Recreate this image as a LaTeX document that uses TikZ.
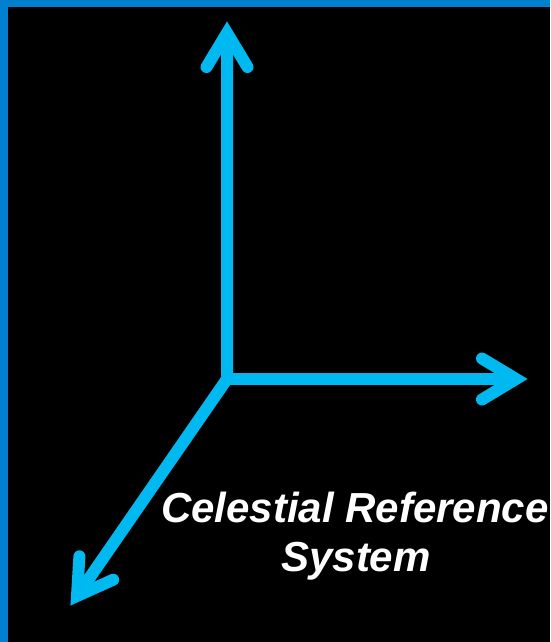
\documentclass[tikz,border=0pt]{standalone}
\usepackage{fontspec}
\setmainfont{Liberation Sans}
\definecolor{bordblue}{RGB}{0,128,206}
\definecolor{axcyan}{RGB}{0,185,240}
\begin{document}
\begin{tikzpicture}[x=1pt,y=1pt,
  axis/.style={draw=axcyan,line width=12pt,line join=miter},
  head/.style={draw=axcyan,line width=12pt,line cap=round,line join=miter,miter limit=10},
  lbl/.style={text=white,font=\fontsize{42}{48}\selectfont\bfseries\itshape,anchor=base,inner sep=0pt}]
\useasboundingbox (0,0) rectangle (550,-642);
\fill[black] (0,0) rectangle (550,-642);
\fill[bordblue] (0,0) rectangle (8,-642);
\fill[bordblue] (0,0) rectangle (550,-7);
\coordinate (O) at (227,-379);
\coordinate (Y) at (227,-33);
\coordinate (X) at (516,-379);
\coordinate (Z) at (77,-596);
\coordinate (Ya) at (206.5,-67);
\coordinate (Yb) at (247.5,-67);
\coordinate (Xa) at (482,-358.5);
\coordinate (Xb) at (482,-399.5);
\coordinate (Za) at (113.2,-579.7);
\coordinate (Zb) at (79.4,-556.3);
\draw[axis] (Y) -- (O) -- (Z);
\draw[axis] (O) -- (X);
\draw[head] (Ya) -- (Y) -- (Yb);
\draw[head] (Xa) -- (X) -- (Xb);
\draw[head] (Za) -- (Z) -- (Zb);
\node[lbl] (t1) at (355,-522.5) {Celestial Reference};
\node[lbl] (t2) at (356,-571) {System};
\end{tikzpicture}
\end{document}
